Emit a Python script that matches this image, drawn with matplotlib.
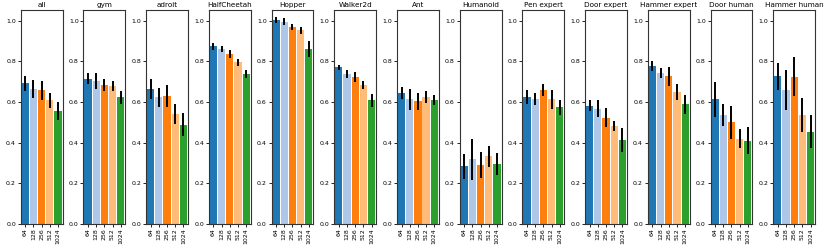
import matplotlib
matplotlib.use("Agg")
import matplotlib.pyplot as plt
import numpy as np

# data
tasks = ["all", "gym", "adroit", "HalfCheetah", "Hopper", "Walker2d", "Ant",
         "Humanoid", "Pen expert", "Door expert", "Hammer expert",
         "Door human", "Hammer human"]
sizes = ["64", "128", "256", "512", "1024"]
colors = ["#1f77b4", "#aec7e8", "#ff7f0e", "#ffbb78", "#2ca02c"]

means = [
    [0.692, 0.664, 0.657, 0.610, 0.556],  # all
    [0.715, 0.705, 0.684, 0.679, 0.623],  # gym
    [0.664, 0.623, 0.630, 0.541, 0.489],  # adroit
    [0.874, 0.861, 0.836, 0.795, 0.738],  # HalfCheetah
    [1.003, 0.995, 0.969, 0.954, 0.862],  # Hopper
    [0.772, 0.738, 0.723, 0.685, 0.608],  # Walker2d
    [0.644, 0.613, 0.603, 0.625, 0.611],  # Ant
    [0.283, 0.318, 0.290, 0.333, 0.296],  # Humanoid
    [0.625, 0.615, 0.659, 0.613, 0.575],  # Pen expert
    [0.583, 0.568, 0.523, 0.483, 0.413],  # Door expert
    [0.777, 0.745, 0.727, 0.648, 0.588],  # Hammer expert
    [0.613, 0.537, 0.500, 0.420, 0.410],  # Door human
    [0.727, 0.659, 0.725, 0.535, 0.455],  # Hammer human
]
errs = [
    [0.037, 0.043, 0.045, 0.037, 0.043],
    [0.026, 0.040, 0.030, 0.024, 0.033],
    [0.048, 0.048, 0.056, 0.048, 0.057],
    [0.018, 0.016, 0.020, 0.018, 0.021],
    [0.016, 0.018, 0.015, 0.017, 0.041],
    [0.012, 0.020, 0.026, 0.019, 0.032],
    [0.031, 0.050, 0.043, 0.028, 0.025],
    [0.060, 0.100, 0.062, 0.053, 0.053],
    [0.035, 0.030, 0.030, 0.046, 0.037],
    [0.025, 0.040, 0.048, 0.025, 0.060],
    [0.025, 0.025, 0.047, 0.040, 0.045],
    [0.087, 0.053, 0.083, 0.045, 0.065],
    [0.067, 0.100, 0.095, 0.083, 0.080],
]

fig, axes = plt.subplots(1, len(tasks), figsize=(8.3, 2.45), dpi=100)
fig.subplots_adjust(left=0.025, right=0.982, top=0.959, bottom=0.086, wspace=0.5)

x = np.arange(len(sizes))
for ax, name, m, e in zip(axes, tasks, means, errs):
    ax.bar(x, m, width=0.88, color=colors)
    ax.errorbar(x, m, yerr=e, fmt="none", ecolor="black", elinewidth=1.4, capsize=0)
    ax.set_title(name, fontsize=5.2, pad=2)
    ax.set_xticks(x)
    ax.set_xticklabels(sizes, rotation=90, fontsize=4.5)
    ax.set_xlim(-0.55, 4.55)
    ax.set_ylim(0, 1.053)
    ax.set_yticks([0.0, 0.2, 0.4, 0.6, 0.8, 1.0])
    ax.tick_params(axis="y", labelsize=4.5, length=2, width=0.6, pad=1.5)
    ax.tick_params(axis="x", length=2, width=0.6, pad=1)
    for s in ax.spines.values():
        s.set_color("#333333")
        s.set_linewidth(0.8)

fig.savefig("out.png", dpi=100)
